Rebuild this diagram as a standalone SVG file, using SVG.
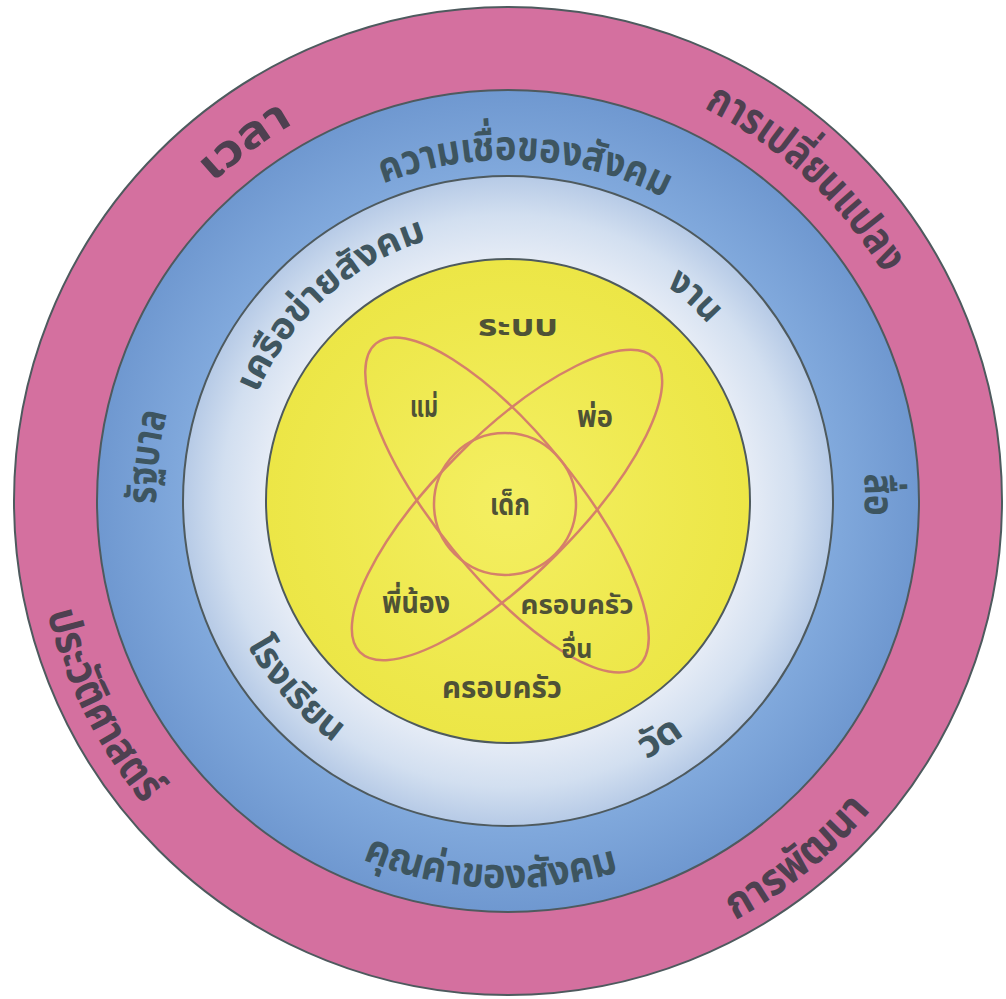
<svg xmlns="http://www.w3.org/2000/svg" xmlns:xlink="http://www.w3.org/1999/xlink" width="1006" height="999" viewBox="0 0 1006 999">
<defs>
<radialGradient id="gBlue" gradientUnits="userSpaceOnUse" cx="508" cy="501" r="411">
<stop offset="0.78" stop-color="#82aadd"/>
<stop offset="1" stop-color="#6f98d0"/>
</radialGradient>
<radialGradient id="gLight" gradientUnits="userSpaceOnUse" cx="508" cy="501" r="325">
<stop offset="0.74" stop-color="#e6ecf6"/>
<stop offset="0.88" stop-color="#d2dff0"/>
<stop offset="1" stop-color="#b6cae6"/>
</radialGradient>
<radialGradient id="gYellow" gradientUnits="userSpaceOnUse" cx="508" cy="501" r="242">
<stop offset="0" stop-color="#f4ef62"/>
<stop offset="1" stop-color="#ece646"/>
</radialGradient>
<path id="t434" d="M74,501 A434,434 0 0 1 942,501"/>
<path id="t439" d="M69,501 A439,439 0 0 1 947,501"/>
<path id="t341" d="M167,501 A341,341 0 0 1 849,501"/>
<path id="t352" d="M156,501 A352,352 0 0 1 860,501"/>
<path id="t357" d="M151,501 A357,357 0 0 1 865,501"/>
<path id="t273" d="M235,501 A273,273 0 0 1 781,501"/>
<path id="t267" d="M241,501 A267,267 0 0 1 775,501"/>
<path id="b474" d="M34,501 A474,474 0 0 0 982,501"/>
<path id="b477" d="M31,501 A477,477 0 0 0 985,501"/>
<path id="b387" d="M121,501 A387,387 0 0 0 895,501"/>
<path id="b298" d="M210,501 A298,298 0 0 0 806,501"/>
<path id="b293" d="M215,501 A293,293 0 0 0 801,501"/>
</defs>
<style>
.ring{stroke:#4e5a5e;stroke-width:2}
.lbl{font-family:"Noto Sans Thai","Noto Sans","DejaVu Sans",sans-serif;font-weight:bold;text-anchor:middle}
.pk{fill:#4e4050;font-size:44px}
.bl{fill:#3d5560;font-size:41px}
.lt{fill:#3f5660;font-size:37px}
.in{fill:#4f5236;font-size:30px}
.sm{font-size:26px}
.orb{fill:none;stroke:#d5806a;stroke-width:2.5}
</style>
<rect width="1006" height="999" fill="#ffffff"/>
<g id="ring-history">
<circle class="ring" cx="508" cy="501" r="494" fill="#d4709f"/>
<text class="lbl pk" transform="rotate(-36.2 508 501)"><textPath href="#t434" startOffset="50%" textLength="100" lengthAdjust="spacingAndGlyphs">เวลา</textPath></text>
<text class="lbl pk" transform="rotate(42.7 508 501)"><textPath href="#t439" startOffset="50%" textLength="248" lengthAdjust="spacingAndGlyphs">การเปลี่ยนแปลง</textPath></text>
<text class="lbl pk" transform="rotate(63.3 508 501)"><textPath href="#b474" startOffset="50%" textLength="216" lengthAdjust="spacingAndGlyphs">ประวัติศาสตร์</textPath></text>
<text class="lbl pk" transform="rotate(-39 508 501)"><textPath href="#b477" startOffset="50%" textLength="176" lengthAdjust="spacingAndGlyphs">การพัฒนา</textPath></text>
</g>
<g id="ring-society">
<circle class="ring" cx="508" cy="501" r="411" fill="url(#gBlue)"/>
<text class="lbl bl" transform="rotate(2.9 508 501)"><textPath href="#t341" startOffset="50%" textLength="290" lengthAdjust="spacingAndGlyphs">ความเชื่อของสังคม</textPath></text>
<text class="lbl bl" transform="rotate(-83 508 501)"><textPath href="#t352" startOffset="50%" textLength="92" lengthAdjust="spacingAndGlyphs">รัฐบาล</textPath></text>
<text class="lbl bl" transform="rotate(89 508 501)"><textPath href="#t357" startOffset="50%" textLength="42" lengthAdjust="spacingAndGlyphs">สื่อ</textPath></text>
<text class="lbl bl" transform="rotate(2.7 508 501)"><textPath href="#b387" startOffset="50%" textLength="262" lengthAdjust="spacingAndGlyphs">คุณค่าของสังคม</textPath></text>
</g>
<g id="ring-network">
<circle class="ring" cx="508" cy="501" r="325" fill="url(#gLight)"/>
<text class="lbl lt" transform="rotate(-42 508 501)"><textPath href="#t273" startOffset="50%" textLength="236" lengthAdjust="spacingAndGlyphs">เครือข่ายสังคม</textPath></text>
<text class="lbl lt" transform="rotate(42.4 508 501)"><textPath href="#t267" startOffset="50%" textLength="58" lengthAdjust="spacingAndGlyphs">งาน</textPath></text>
<text class="lbl lt" transform="rotate(48.5 508 501)"><textPath href="#b298" startOffset="50%" textLength="132" lengthAdjust="spacingAndGlyphs">โรงเรียน</textPath></text>
<text class="lbl lt" transform="rotate(-32.6 508 501)"><textPath href="#b293" startOffset="50%" textLength="46" lengthAdjust="spacingAndGlyphs">วัด</textPath></text>
</g>
<g id="core-family">
<circle class="ring" cx="508" cy="501" r="242" fill="url(#gYellow)"/>
<text class="lbl in" x="518" y="336" textLength="80" lengthAdjust="spacingAndGlyphs">ระบบ</text>
<text class="lbl in" x="502" y="698" textLength="120" lengthAdjust="spacingAndGlyphs">ครอบครัว</text>
</g>
<g id="orbits">
<ellipse class="orb" cx="507" cy="505" rx="208" ry="70" transform="rotate(51 507 505)"/>
<ellipse class="orb" cx="507" cy="505" rx="208" ry="70" transform="rotate(-45 507 505)"/>
<circle class="orb" cx="505" cy="504" r="71"/>
</g>
<g id="members">
<text class="lbl in" x="424" y="417" textLength="28" lengthAdjust="spacingAndGlyphs">แม่</text>
<text class="lbl in" x="595" y="427" textLength="36" lengthAdjust="spacingAndGlyphs">พ่อ</text>
<text class="lbl in" x="510" y="515" textLength="40" lengthAdjust="spacingAndGlyphs">เด็ก</text>
<text class="lbl in" x="416" y="613" textLength="68" lengthAdjust="spacingAndGlyphs">พี่น้อง</text>
<text class="lbl in sm" x="577" y="614" textLength="113" lengthAdjust="spacingAndGlyphs">ครอบครัว</text>
<text class="lbl in sm" x="577" y="658" textLength="31" lengthAdjust="spacingAndGlyphs">อื่น</text>
</g>
</svg>
